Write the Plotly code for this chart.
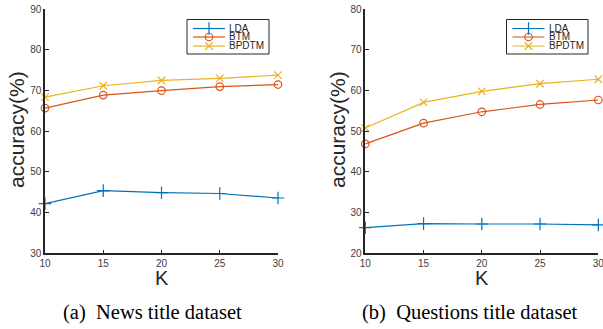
import plotly.graph_objects as go

K = [10, 15, 20, 25, 30]
series_names = ["LDA", "BTM", "BPDTM"]

news_lda = [42.2, 45.4, 44.9, 44.7, 43.6]
news_btm = [65.7, 68.9, 70.0, 71.0, 71.5]
news_bpdtm = [68.4, 71.2, 72.5, 73.0, 73.8]

ques_lda = [26.3, 27.3, 27.2, 27.2, 27.0]
ques_btm = [46.9, 52.0, 54.8, 56.6, 57.7]
ques_bpdtm = [50.8, 57.1, 59.8, 61.7, 62.8]

news_yticks = [30, 40, 50, 60, 70, 80, 90]
ques_yticks = [20, 30, 40, 50, 60, 70, 80]

colors = ["#0072BD", "#D95319", "#EDB120"]
symbols = ["cross-thin-open", "circle-open", "x-thin-open"]
sizes = [9, 7.5, 7.5]

W, H = 603, 329
fig = go.Figure()

panels = [
    ("x", "y", [news_lda, news_btm, news_bpdtm]),
    ("x2", "y2", [ques_lda, ques_btm, ques_bpdtm]),
]
for xa, ya, data in panels:
    for name, vals, c, s, sz in zip(series_names, data, colors, symbols, sizes):
        fig.add_trace(go.Scatter(
            x=K, y=vals, name=name, mode="lines+markers",
            line=dict(color=c, width=1.2),
            marker=dict(symbol=s, size=sz, color=c, line=dict(color=c, width=1.2)),
            xaxis=xa, yaxis=ya, showlegend=False, cliponaxis=False,
        ))

# Compact MATLAB-style legends drawn on a hidden pixel-unit overlay axis
legend_boxes = [(187, 19.5, 269, 54), (506.5, 19.5, 588, 54)]
row_offsets = [9, 17.5, 26.5]
for (x0, y0, x1, y1) in legend_boxes:
    fig.add_shape(type="rect", xref="paper", yref="paper",
                  x0=x0 / W, x1=x1 / W, y0=1 - y0 / H, y1=1 - y1 / H,
                  line=dict(color="#262626", width=1), fillcolor="white", layer="below")
    for name, c, s, sz, dy in zip(series_names, colors, symbols, sizes, row_offsets):
        yy = y0 + dy
        fig.add_trace(go.Scatter(
            x=[x0 + 6, x0 + 22, x0 + 38], y=[yy, yy, yy], mode="lines",
            line=dict(color=c, width=1.2), xaxis="x3", yaxis="y3",
            showlegend=False, hoverinfo="skip", cliponaxis=False,
        ))
        fig.add_trace(go.Scatter(
            x=[x0 + 22], y=[yy], mode="markers",
            marker=dict(symbol=s, size=sz, color=c, line=dict(color=c, width=1.2)),
            xaxis="x3", yaxis="y3", showlegend=False, hoverinfo="skip", cliponaxis=False,
        ))
        fig.add_annotation(text=name, x=(x0 + 41) / W, y=1 - yy / H, xref="paper", yref="paper",
                           xanchor="left", yanchor="middle", showarrow=False, borderpad=0,
                           font=dict(family="Liberation Sans, Arial", size=10, color="#262626"))

axis_common = dict(
    showline=True, linecolor="#262626", linewidth=1.5,
    ticks="inside", ticklen=4, tickcolor="#262626", tickwidth=1,
    showgrid=False, zeroline=False, automargin=False,
    tickfont=dict(family="Liberation Sans, Arial", size=10, color="#404040"),
    mirror=False, ticklabeloverflow="allow",
)

top = 1 - 9.3 / H
bot = 1 - 253.3 / H

fig.update_layout(
    width=W, height=H,
    margin=dict(l=0, r=0, t=0, b=0),
    paper_bgcolor="white", plot_bgcolor="rgba(0,0,0,0)",
    showlegend=False,
    xaxis=dict(domain=[45 / W, 278 / W], range=[10, 30], tickvals=K, anchor="y", **axis_common),
    yaxis=dict(domain=[bot, top], range=[30, 90], tickvals=news_yticks, anchor="x", **axis_common),
    xaxis2=dict(domain=[365.3 / W, 598.3 / W], range=[10, 30], tickvals=K, anchor="y2", **axis_common),
    yaxis2=dict(domain=[bot, top], range=[20, 80], tickvals=ques_yticks, anchor="x2", **axis_common),
    xaxis3=dict(domain=[0, 1], range=[0, W], visible=False, anchor="y3", automargin=False, fixedrange=True),
    yaxis3=dict(domain=[0, 1], range=[H, 0], visible=False, anchor="x3", automargin=False, fixedrange=True),
)

ann_font = dict(family="Liberation Sans, Arial", size=20, color="#262626")
cap_font = dict(family="Liberation Serif, Times New Roman", size=20.5, color="black")
annots = [
    dict(text="accuracy(%)", x=16, y=130, textangle=-90, font=dict(ann_font, size=21)),
    dict(text="accuracy(%)", x=337, y=130, textangle=-90, font=dict(ann_font, size=21)),
    dict(text="K", x=162, y=278, font=ann_font),
    dict(text="K", x=482, y=278, font=ann_font),
    dict(text="(a)\u00a0\u00a0News title dataset", x=152, y=312, font=cap_font),
    dict(text="(b)\u00a0\u00a0Questions title dataset", x=470, y=312, font=cap_font),
]
for a in annots:
    fig.add_annotation(
        text=a["text"], x=a["x"] / W, y=1 - a["y"] / H, xref="paper", yref="paper",
        xanchor="center", yanchor="middle", showarrow=False, font=a["font"],
        textangle=a.get("textangle", 0),
    )

fig.write_html("out.html", config={"displayModeBar": False},
               post_script="document.body.style.margin='0';document.body.style.overflow='hidden';")
